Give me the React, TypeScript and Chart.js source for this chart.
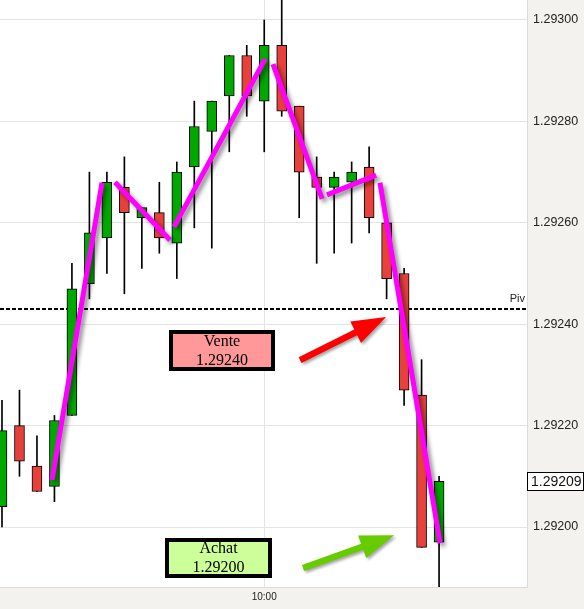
import React, { useEffect, useRef } from "react";
import { Chart, registerables } from "chart.js";

Chart.register(...registerables);

// ---- data ----
const candleIndex = [0, 1, 2, 3, 4, 5, 6, 7, 8, 9, 10, 11, 12, 13, 14, 15, 16, 17, 18, 19, 20, 21, 22, 23, 24, 25];
const opens = [1.29204, 1.2922, 1.29212, 1.29208, 1.29222, 1.29248, 1.29257, 1.29267, 1.29261, 1.29262, 1.29256, 1.29271, 1.29278, 1.29285, 1.29293, 1.29284, 1.29295, 1.29283, 1.29269, 1.29267, 1.29268, 1.29271, 1.2926, 1.2925, 1.29226, 1.29197];
const highs = [1.29225, 1.29227, 1.29218, 1.29222, 1.29252, 1.2927, 1.2927, 1.29273, 1.29263, 1.29268, 1.29272, 1.29284, 1.29284, 1.29293, 1.29295, 1.293, 1.29306, 1.29283, 1.29273, 1.2927, 1.29272, 1.29275, 1.2926, 1.29251, 1.29233, 1.2921];
const lows = [1.292, 1.2921, 1.29207, 1.29205, 1.29222, 1.29245, 1.2925, 1.29246, 1.29251, 1.29254, 1.29249, 1.29259, 1.29255, 1.29274, 1.29281, 1.29274, 1.29281, 1.29261, 1.29252, 1.29254, 1.29256, 1.29258, 1.29245, 1.29224, 1.29196, 1.29187];
const closes = [1.29219, 1.29213, 1.29207, 1.29221, 1.29247, 1.29258, 1.29268, 1.29262, 1.29263, 1.29257, 1.2927, 1.29279, 1.29284, 1.29293, 1.29285, 1.29295, 1.29282, 1.2927, 1.29267, 1.29269, 1.2927, 1.29261, 1.29249, 1.29227, 1.29196, 1.29209];

const timeTickIndex = [15];
const timeTickLabels = ["10:00"];
const priceTicks = [1.292, 1.2922, 1.2924, 1.2926, 1.2928, 1.293];

const pivotLevel = 1.29243;
const pivotLabel = "Piv";
const lastPrice = 1.29209;

// zigzag (x = candle index, y = price)
const zigzagSegments: number[][][] = [
  [[2.86, 1.292093], [5.72, 1.292679]],
  [[6.46, 1.29268], [9.61, 1.292566]],
  [[9.84, 1.292592], [15.05, 1.292923]],
  [[15.5, 1.292913], [18.31, 1.292647]],
  [[18.59, 1.292655], [21.4, 1.292694]],
  [[21.62, 1.292679], [25.06, 1.291968]],
];

const redArrow = [[17.05, 1.292329], [21.97, 1.292414]];
const greenArrow = [[17.22, 1.291919], [22.43, 1.291984]];

const venteLines = ["Vente", "1.29240"];
const venteAnchor = [12.59, 1.292348];
const achatLines = ["Achat", "1.29200"];
const achatAnchor = [12.39, 1.291939];

const xMin = -0.114;
const xMax = 30.03;
const yMin = 1.2918817;
const yMax = 1.2930394;

const GREEN = "#00a800";
const RED = "#e8403a";

function drawArrow(ctx: CanvasRenderingContext2D, x1: number, y1: number, x2: number, y2: number, color: string) {
  const dx = x2 - x1;
  const dy = y2 - y1;
  const len = Math.sqrt(dx * dx + dy * dy);
  const ux = dx / len;
  const uy = dy / len;
  const nx = -uy;
  const ny = ux;
  const headLen = 34;
  const headHalf = 12;
  const shaftHalf = 3.2;
  const bx = x2 - ux * headLen;
  const by = y2 - uy * headLen;
  ctx.save();
  ctx.shadowColor = "rgba(0,0,0,0.35)";
  ctx.shadowBlur = 3;
  ctx.shadowOffsetX = 2;
  ctx.shadowOffsetY = 2;
  ctx.fillStyle = color;
  ctx.beginPath();
  ctx.moveTo(x1 + nx * shaftHalf, y1 + ny * shaftHalf);
  ctx.lineTo(bx + nx * shaftHalf, by + ny * shaftHalf);
  ctx.lineTo(bx + nx * headHalf, by + ny * headHalf);
  ctx.lineTo(x2, y2);
  ctx.lineTo(bx - nx * headHalf, by - ny * headHalf);
  ctx.lineTo(bx - nx * shaftHalf, by - ny * shaftHalf);
  ctx.lineTo(x1 - nx * shaftHalf, y1 - ny * shaftHalf);
  ctx.closePath();
  ctx.fill();
  ctx.restore();
}

function drawBox(ctx: CanvasRenderingContext2D, cx: number, cy: number, w: number, h: number, fill: string, lines: string[]) {
  ctx.save();
  const x = Math.round(cx - w / 2);
  const y = Math.round(cy - h / 2);
  ctx.fillStyle = fill;
  ctx.fillRect(x, y, w, h);
  ctx.lineWidth = 4;
  ctx.strokeStyle = "#000";
  ctx.strokeRect(x + 2, y + 2, w - 4, h - 4);
  ctx.fillStyle = "#000";
  ctx.font = "16px 'Liberation Serif', serif";
  ctx.textAlign = "center";
  ctx.textBaseline = "middle";
  ctx.fillText(lines[0], x + w / 2, y + h / 2 - 9);
  ctx.fillText(lines[1], x + w / 2, y + h / 2 + 10);
  ctx.restore();
}

const decorPlugin = {
  id: "decor",
  beforeDraw(chart: any) {
    const { ctx, chartArea } = chart;
    ctx.save();
    ctx.fillStyle = "#f4f2ee";
    ctx.fillRect(0, 0, chart.width, chart.height);
    ctx.fillStyle = "#ffffff";
    ctx.fillRect(chartArea.left, chartArea.top, chartArea.right - chartArea.left, chartArea.bottom - chartArea.top);
    ctx.restore();
  },
  beforeDatasetsDraw(chart: any) {
    const { ctx, chartArea, scales } = chart;
    const y = Math.round(scales.y.getPixelForValue(pivotLevel));
    ctx.save();
    ctx.strokeStyle = "#000";
    ctx.lineWidth = 2;
    ctx.setLineDash([4, 2]);
    ctx.beginPath();
    ctx.moveTo(chartArea.left, y);
    ctx.lineTo(chartArea.right, y);
    ctx.stroke();
    ctx.setLineDash([]);
    ctx.fillStyle = "#222";
    ctx.font = "11px 'Liberation Sans', sans-serif";
    ctx.textAlign = "right";
    ctx.textBaseline = "alphabetic";
    ctx.fillText(pivotLabel, chartArea.right - 2, y - 7);
    ctx.restore();
  },
  beforeDatasetDraw(chart: any, args: any) {
    const ds = chart.data.datasets[args.index];
    if (ds.type === "line") {
      const ctx = chart.ctx;
      ctx.save();
      ctx.shadowColor = "rgba(0,0,0,0.45)";
      ctx.shadowBlur = 4;
      ctx.shadowOffsetX = 3;
      ctx.shadowOffsetY = 3;
    }
  },
  afterDatasetDraw(chart: any, args: any) {
    const ds = chart.data.datasets[args.index];
    if (ds.type === "line") {
      chart.ctx.restore();
    }
  },
  afterDatasetsDraw(chart: any) {
    const { ctx, scales } = chart;
    const sx = scales.x;
    const sy = scales.y;
    drawArrow(ctx, sx.getPixelForValue(redArrow[0][0]), sy.getPixelForValue(redArrow[0][1]), sx.getPixelForValue(redArrow[1][0]), sy.getPixelForValue(redArrow[1][1]), "#ff0000");
    drawArrow(ctx, sx.getPixelForValue(greenArrow[0][0]), sy.getPixelForValue(greenArrow[0][1]), sx.getPixelForValue(greenArrow[1][0]), sy.getPixelForValue(greenArrow[1][1]), "#66cc00");
    drawBox(ctx, sx.getPixelForValue(venteAnchor[0]), sy.getPixelForValue(venteAnchor[1]), 106, 41, "#ff9999", venteLines);
    drawBox(ctx, sx.getPixelForValue(achatAnchor[0]), sy.getPixelForValue(achatAnchor[1]), 107, 40, "#ccff99", achatLines);
  },
  afterDraw(chart: any) {
    const { ctx, chartArea, scales } = chart;
    const y = scales.y.getPixelForValue(lastPrice);
    ctx.save();
    const bx = chartArea.right + 0.5;
    const by = Math.round(y - 9) + 0.5;
    ctx.fillStyle = "#ffffff";
    ctx.fillRect(bx, by, 56, 18);
    ctx.strokeStyle = "#000";
    ctx.lineWidth = 1;
    ctx.strokeRect(bx, by, 56, 18);
    ctx.fillStyle = "#111";
    ctx.font = "14px 'Liberation Sans', sans-serif";
    ctx.textAlign = "left";
    ctx.textBaseline = "middle";
    ctx.fillText(lastPrice.toFixed(5), chartArea.right + 4, by + 9.5);
    ctx.restore();
  },
};

export default function App() {
  const canvasRef = useRef<HTMLCanvasElement | null>(null);

  useEffect(() => {
    const canvas = canvasRef.current;
    if (!canvas) return;

    const bodies = candleIndex.map((i) => ({ x: i, y: [Math.min(opens[i], closes[i]), Math.max(opens[i], closes[i])] }));
    const wicks = candleIndex.map((i) => ({ x: i, y: [lows[i], highs[i]] }));
    const bodyColors = candleIndex.map((i) => (closes[i] >= opens[i] ? GREEN : RED));

    const lineSets = zigzagSegments.map((seg) => ({
      type: "line" as const,
      data: seg.map(([x, y]) => ({ x, y })),
      borderColor: "#ff00ff",
      borderWidth: 5,
      borderCapStyle: "butt" as const,
      pointRadius: 0,
      fill: false,
      tension: 0,
    }));

    const chart = new Chart(canvas, {
      type: "bar",
      data: {
        datasets: [
          ...lineSets,
          {
            type: "bar",
            data: bodies as any,
            backgroundColor: bodyColors,
            borderColor: "#000",
            borderWidth: 1,
            borderSkipped: false,
            barThickness: 10,
            grouped: false,
          },
          {
            type: "bar",
            data: wicks as any,
            backgroundColor: "#000",
            borderWidth: 0,
            barThickness: 1,
            grouped: false,
          },
        ] as any,
      },
      options: {
        animation: false,
        responsive: false,
        devicePixelRatio: 1,
        layout: { padding: 0 },
        plugins: {
          legend: { display: false },
          tooltip: { enabled: false },
          title: { display: false },
        },
        scales: {
          x: {
            type: "linear",
            position: "bottom",
            min: xMin,
            max: xMax,
            offset: false,
            grid: { color: "#e4e4e4", lineWidth: 1, drawTicks: false, offset: false },
            border: { display: true, color: "#dcdcdc" },
            ticks: {
              padding: 4,
              color: "#222",
              font: { family: "'Liberation Sans', sans-serif", size: 10 },
              callback: (v: any) => {
                const k = timeTickIndex.indexOf(Number(v));
                return k >= 0 ? timeTickLabels[k] : "";
              },
            },
            afterBuildTicks: (s: any) => {
              s.ticks = timeTickIndex.map((v) => ({ value: v }));
            },
            afterFit: (s: any) => {
              s.height = 22;
              s.paddingLeft = 0;
              s.paddingRight = 0;
            },
          } as any,
          y: {
            type: "linear",
            position: "right",
            min: yMin,
            max: yMax,
            beginAtZero: false,
            grid: { color: "#e4e4e4", lineWidth: 1, drawTicks: false },
            border: { display: true, color: "#dcdcdc" },
            ticks: {
              padding: 6,
              color: "#222",
              font: { family: "'Liberation Sans', sans-serif", size: 12.5 },
              callback: (v: any) => Number(v).toFixed(5),
            },
            afterBuildTicks: (s: any) => {
              s.ticks = priceTicks.map((v) => ({ value: v }));
            },
            afterFit: (s: any) => {
              s.width = 57;
              s.paddingTop = 0;
              s.paddingBottom = 0;
            },
          } as any,
        },
      },
      plugins: [decorPlugin],
    });

    return () => {
      chart.destroy();
    };
  }, []);

  return (
    <div style={{ position: "absolute", left: 0, top: 0, width: 584, height: 609 }}>
      <canvas ref={canvasRef} width={584} height={609} style={{ display: "block", width: 584, height: 609 }} />
    </div>
  );
}
